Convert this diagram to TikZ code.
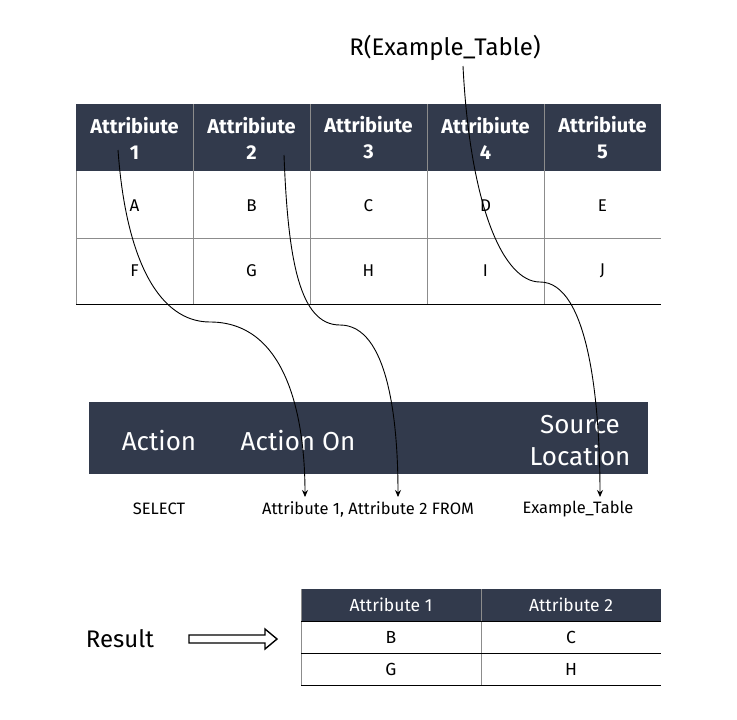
\documentclass[tikz,border=0pt]{standalone}
\usepackage{fontspec}
\setmainfont{Fira Sans}
\usetikzlibrary{arrows.meta}
\definecolor{headdark}{HTML}{323A4C}
\definecolor{gridgray}{HTML}{8C8C8C}
\begin{document}
\begin{tikzpicture}[x=1pt,y=-1pt,
  headtxt/.style={text=white,font=\fontsize{20}{26}\selectfont\bfseries,align=center},
  celltxt/.style={font=\fontsize{17}{18}\selectfont},
  bantxt/.style={text=white,font=\fontsize{26}{32}\selectfont,align=center},
  qtxt/.style={font=\fontsize{16.5}{18}\selectfont},
  restxt/.style={font=\fontsize{17.5}{20}\selectfont},
  link/.style={black,line width=0.9pt,-{Stealth[length=7pt,width=6pt]}},
  plain/.style={black,line width=1.4pt}]
\useasboundingbox (0,0) rectangle (737,720);

% ---- source table ----
\fill[headdark] (76,104) rectangle (661,171);
\draw[gridgray,line width=0.8pt] (76,238) -- (661,238);
\foreach \x in {193,310,427,544} \draw[gridgray,line width=0.8pt] (\x,104) -- (\x,304);
\draw[gridgray,line width=0.8pt] (76,171) -- (76,304);
\draw[black,line width=0.9pt] (76,304) -- (661,304);
\foreach \i/\x in {1/134.5,2/251.5,3/368.5,4/485.5,5/602.5}
  \node[headtxt] (h\i) at (\x,138) {Attribiute\\\i};
\foreach \i/\t/\x in {1/A/134.5,2/B/251.5,3/C/368.5,4/D/485.5,5/E/602.5}
  \node[celltxt] (r1c\i) at (\x,206) {\t};
\foreach \i/\t/\x in {1/F/134.5,2/G/251.5,3/H/368.5,4/I/485.5,5/J/602.5}
  \node[celltxt] (r2c\i) at (\x,271) {\t};

\node[font=\fontsize{24}{28}\selectfont] (rel) at (445,48) {R(Example\_Table)};

% ---- query banner ----
\fill[headdark] (89,402) rectangle (648,474);
\node[bantxt] (act) at (159,441) {Action};
\node[bantxt] (acton) at (298,441) {Action On};
\node[bantxt] (src) at (580,441) {Source\\Location};

\node[qtxt] (qsel) at (159,509) {SELECT};
\node[qtxt] (qatt) at (368,509) {Attribute 1, Attribute 2 FROM};
\node[qtxt] (qtab) at (578,509) {Example\_Table};

% ---- connectors ----
\coordinate (s1) at (118,150);
\coordinate (m1) at (210,322);
\coordinate (e1) at (305,497);
\coordinate (s2) at (284,155);
\coordinate (m2) at (340,325);
\coordinate (e2) at (398,497);
\coordinate (s3) at (463,66);
\coordinate (m3) at (540,282);
\coordinate (e3) at (600,497);
\draw[link] (s1) .. controls (126,262) and (160,322) .. (m1)
            .. controls (288,322) and (305,420) .. (e1);
\draw[link] (s2) .. controls (288,262) and (300,325) .. (m2)
            .. controls (388,325) and (398,420) .. (e2);
\draw[link] (s3) .. controls (470,205) and (503,282) .. (m3)
            .. controls (588,282) and (600,400) .. (e3);

% ---- result ----
\node[font=\fontsize{24}{28}\selectfont] (res) at (120,639) {Result};
\draw[plain,line join=miter] (189,635) -- (265,635) -- (265,629) -- (277,639)
  -- (265,649) -- (265,643) -- (189,643) -- cycle;

\fill[headdark] (301,589) rectangle (661,621);
\draw[gridgray,line width=0.8pt] (301,589) -- (301,685);
\draw[gridgray,line width=0.8pt] (481,589) -- (481,685);
\draw[black,line width=0.8pt] (301,621) -- (661,621);
\draw[black,line width=0.8pt] (301,653) -- (661,653);
\draw[black,line width=0.8pt] (301,685) -- (661,685);
\node[restxt,text=white] (ra1) at (391,605) {Attribute 1};
\node[restxt,text=white] (ra2) at (571,605) {Attribute 2};
\node[restxt] (rb) at (391,637) {B};
\node[restxt] (rc) at (571,637) {C};
\node[restxt] (rg) at (391,669) {G};
\node[restxt] (rh) at (571,669) {H};
\end{tikzpicture}
\end{document}
